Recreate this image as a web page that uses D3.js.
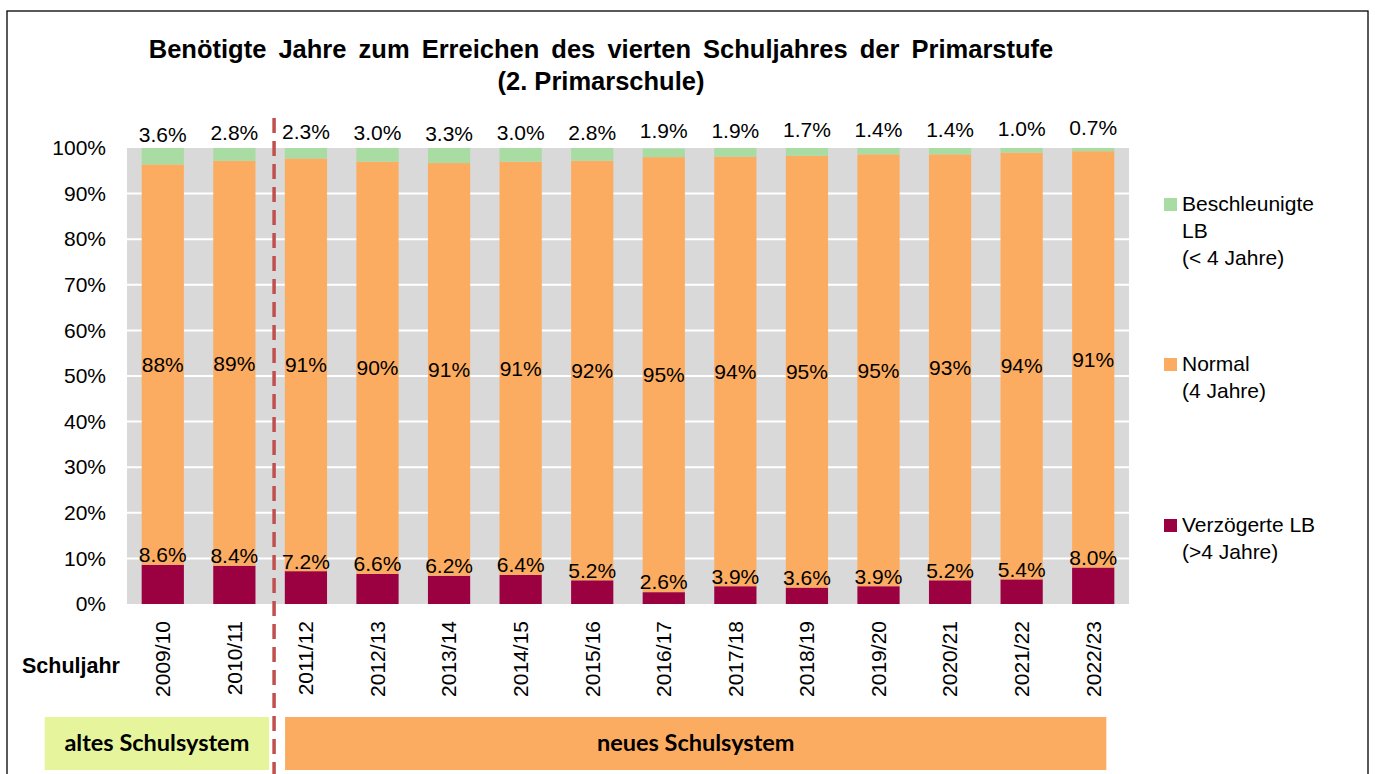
<!DOCTYPE html>
<html>
<head>
<meta charset="utf-8">
<script src="https://cdn.jsdelivr.net/npm/d3@7"></script>
<style>
  body { margin: 0; background: #fff; }
  svg text { font-family: "Liberation Sans", Arial, sans-serif; fill: #000; }
</style>
</head>
<body>
<div id="chart"></div>
<script>
// data (percent)
const years = ["2009/10","2010/11","2011/12","2012/13","2013/14","2014/15","2015/16",
               "2016/17","2017/18","2018/19","2019/20","2020/21","2021/22","2022/23"];
const verzoegert = [8.6, 8.4, 7.2, 6.6, 6.2, 6.4, 5.2, 2.6, 3.9, 3.6, 3.9, 5.2, 5.4, 8.0];
const normal = [87.8, 88.8, 90.5, 90.4, 90.5, 90.6, 92.0, 95.4, 94.2, 94.7, 94.7, 93.4, 93.6, 91.3];
const beschleunigt = [3.6, 2.8, 2.3, 3.0, 3.3, 3.0, 2.8, 1.9, 1.9, 1.7, 1.4, 1.4, 1.0, 0.7];
const yTicks = [0, 10, 20, 30, 40, 50, 60, 70, 80, 90, 100];
const legendLabels = [
  ["Beschleunigte", "LB", "(< 4 Jahre)"],
  ["Normal", "(4 Jahre)"],
  ["Verzögerte LB", "(>4 Jahre)"]
];
const titleLines = ["Benötigte Jahre zum Erreichen des vierten Schuljahres der Primarstufe", "(2. Primarschule)"];

const colors = { verz: "#9B0040", norm: "#FCAC61", besch: "#A8DCA2" };

const W = 1375, H = 774;
const plot = { left: 127, right: 1129, top: 148, bottom: 604 };

const svg = d3.select("#chart").append("svg")
  .attr("width", W)
  .attr("height", H);

// outer frame
svg.append("rect")
  .attr("x", 7).attr("y", 11)
  .attr("width", 1361).attr("height", 800)
  .attr("fill", "none").attr("stroke", "#000").attr("stroke-width", 1.3);

// title
svg.append("text")
  .attr("text-anchor", "middle")
  .attr("font-weight", "bold")
  .attr("font-size", 25.5)
  .selectAll("tspan")
  .data(titleLines)
  .enter().append("tspan")
    .attr("x", 601)
    .attr("y", (d, i) => 58 + i * 32)
    .attr("word-spacing", (d, i) => i == 0 ? 5 : 0)
    .text(d => d);

const x = d3.scaleBand()
  .domain(years)
  .range([plot.left, plot.right])
  .paddingInner(0.41)
  .paddingOuter(0.205);

const y = d3.scaleLinear()
  .domain([0, 100])
  .range([plot.bottom, plot.top]);

// grey plot area + white gridlines
svg.append("rect")
  .attr("x", plot.left).attr("y", plot.top)
  .attr("width", plot.right - plot.left).attr("height", plot.bottom - plot.top)
  .attr("fill", "#D9D9D9");

svg.append("g")
  .selectAll("line")
  .data(yTicks.slice(1, -1))
  .enter().append("line")
    .attr("x1", plot.left).attr("x2", plot.right)
    .attr("y1", d => y(d)).attr("y2", d => y(d))
    .attr("stroke", "#fff").attr("stroke-width", 2);

// y axis labels
const yAxis = svg.append("g")
  .attr("transform", "translate(" + (plot.left - 21) + ",0)")
  .call(d3.axisLeft(y).tickValues(yTicks).tickSize(0).tickPadding(0).tickFormat(d => d + "%"));
yAxis.select(".domain").remove();
yAxis.selectAll("text")
  .attr("font-size", 21)
  .attr("font-family", "Liberation Sans, Arial, sans-serif")
  .attr("fill", "#000");

// stacked bars
const rows = years.map((yr, i) => ({ year: yr, verz: verzoegert[i], norm: normal[i], besch: beschleunigt[i] }));
const stack = d3.stack().keys(["verz", "norm", "besch"]);
const series = stack(rows);

svg.append("g")
  .selectAll("g")
  .data(series)
  .enter().append("g")
    .attr("fill", d => colors[d.key])
  .selectAll("rect")
  .data(d => d)
  .enter().append("rect")
    .attr("x", d => x(d.data.year))
    .attr("width", x.bandwidth())
    .attr("y", d => y(d[1]))
    .attr("height", d => y(d[0]) - y(d[1]));

// data labels
const labels = svg.append("g")
  .attr("text-anchor", "middle")
  .attr("font-size", 21);

labels.selectAll(".lv")
  .data(series[0])
  .enter().append("text")
    .attr("class", "lv")
    .attr("x", d => x(d.data.year) + x.bandwidth() / 2)
    .attr("y", d => y(d[1]) - 10)
    .attr("dy", "0.35em")
    .text(d => d3.format(".1f")(d.data.verz) + "%");

labels.selectAll(".ln")
  .data(series[1])
  .enter().append("text")
    .attr("class", "ln")
    .attr("x", d => x(d.data.year) + x.bandwidth() / 2)
    .attr("y", d => y((d[0] + d[1]) / 2))
    .attr("dy", "0.35em")
    .text(d => Math.round(d.data.norm) + "%");

labels.selectAll(".lb")
  .data(series[2])
  .enter().append("text")
    .attr("class", "lb")
    .attr("x", d => x(d.data.year) + x.bandwidth() / 2)
    .attr("y", d => y((d[0] + d[1]) / 2) - 22)
    .attr("dy", "0.35em")
    .text(d => d3.format(".1f")(d.data.besch) + "%");

// x axis labels (rotated)
svg.append("g")
  .selectAll("text")
  .data(years)
  .enter().append("text")
    .attr("transform", d => "translate(" + (x(d) + x.bandwidth() / 2) + "," + 621 + ") rotate(-90)")
    .attr("text-anchor", "end")
    .attr("dy", "0.35em")
    .attr("font-size", 21)
    .text(d => d);

svg.append("text")
  .attr("x", 22).attr("y", 673)
  .attr("font-weight", "bold")
  .attr("font-size", 21.5)
  .text("Schuljahr");

// school system boxes
const step = x.step();
const divider = x(years[2]) - 0.15 * step;
const systems = [
  { label: "altes Schulsystem", x0: x(years[0]) - 97, x1: divider - 5, color: "#E6F59C" },
  { label: "neues Schulsystem", x0: divider + 11, x1: x(years[years.length - 1]) + x.bandwidth() - 8, color: "#FCAC61" }
];
const sys = svg.append("g")
  .selectAll("g")
  .data(systems)
  .enter().append("g");
sys.append("rect")
  .attr("x", d => d.x0).attr("y", 717)
  .attr("width", d => d.x1 - d.x0).attr("height", 53)
  .attr("fill", d => d.color);
sys.append("text")
  .attr("x", d => (d.x0 + d.x1) / 2).attr("y", 751)
  .attr("text-anchor", "middle")
  .attr("font-weight", "bold")
  .attr("font-size", 23.5)
  .style("font-family", "Lato, 'Open Sans', sans-serif")
  .text(d => d.label);

// dashed divider
svg.append("line")
  .attr("x1", divider).attr("x2", divider)
  .attr("y1", 118).attr("y2", 774)
  .attr("stroke", "#C0504D")
  .attr("stroke-width", 3.5)
  .attr("stroke-dasharray", "15,8");

// legend
const legendY = [211, 371, 532];
const legendColors = [colors.besch, colors.norm, colors.verz];
const legend = svg.append("g")
  .selectAll("g")
  .data(legendLabels)
  .enter().append("g")
    .attr("transform", (d, i) => "translate(1164," + legendY[i] + ")");
legend.append("rect")
  .attr("x", 0).attr("y", -13)
  .attr("width", 13).attr("height", 13)
  .attr("fill", (d, i) => legendColors[i]);
legend.append("text")
  .attr("font-size", 21)
  .selectAll("tspan")
  .data(d => d)
  .enter().append("tspan")
    .attr("x", 18)
    .attr("y", (d, i) => i * 27)
    .text(d => d);
</script>
</body>
</html>
